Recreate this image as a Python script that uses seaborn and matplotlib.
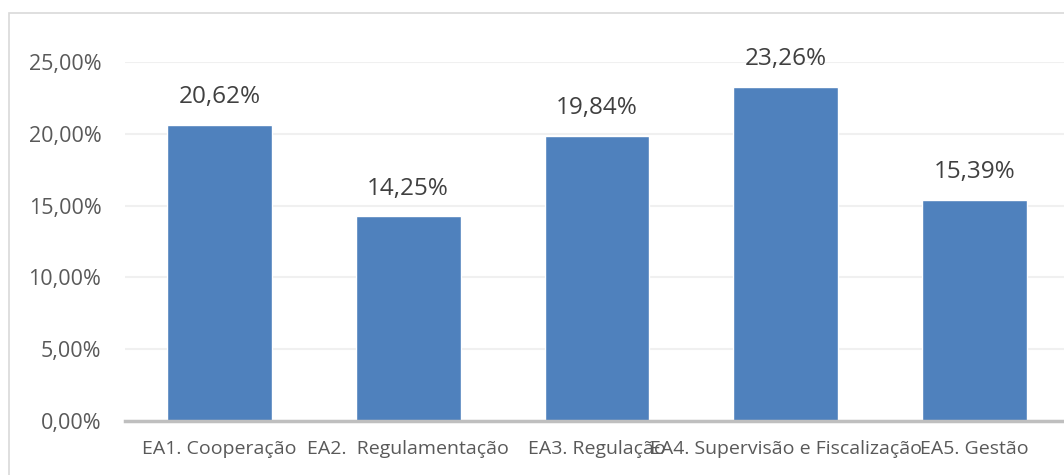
import matplotlib
matplotlib.use("Agg")
import matplotlib.pyplot as plt
import seaborn as sns
import pandas as pd
from matplotlib.patches import Rectangle
from matplotlib.ticker import FuncFormatter

# data
categories = ["EA1. Cooperação", "EA2.  Regulamentação", "EA3. Regulação",
              "EA4. Supervisão e Fiscalização", "EA5. Gestão"]
values = [0.2062, 0.1425, 0.1984, 0.2326, 0.1539]

df = pd.DataFrame({"categoria": categories, "valor": values})

sns.set_theme(style="white")
plt.rcParams["font.family"] = ["Open Sans", "DejaVu Sans"]

fig = plt.figure(figsize=(10.64, 4.75), dpi=100)
ax = fig.add_axes([125 / 1064, 1 - 421 / 475, 944 / 1064, (421 - 62) / 475])

sns.barplot(data=df, x="categoria", y="valor", color="#4F81BD",
            saturation=1, width=0.555, ax=ax)

ax.set_xlim(-0.5, 4.5)
ax.set_ylim(0, 0.25)
ax.set_yticks([0, 0.05, 0.10, 0.15, 0.20, 0.25])
ax.yaxis.set_major_formatter(FuncFormatter(lambda v, p: f"{v * 100:.2f}%".replace(".", ",")))
ax.grid(axis="y", color="#f0f0f0", linewidth=1.5)
ax.set_axisbelow(True)
for s in ["top", "right", "left"]:
    ax.spines[s].set_visible(False)
ax.spines["bottom"].set_color("#bfbfbf")
ax.spines["bottom"].set_linewidth(2.5)
ax.tick_params(axis="y", length=0, pad=17, labelsize=15.5, labelcolor="#595959")
ax.tick_params(axis="x", length=0, pad=14, labelsize=14, labelcolor="#595959")
ax.set_xlabel("")
ax.set_ylabel("")

# data labels
for i, v in enumerate(values):
    ax.text(i, v + 0.011, f"{v * 100:.2f}%".replace(".", ","), ha="center", va="bottom",
            fontsize=17.5, color="#404040", clip_on=False)

# chart border
fig.patches.append(Rectangle((8.5 / 1064, -0.1), 1.2, 1 - 12.5 / 475 + 0.1,
                             transform=fig.transFigure, fill=False,
                             edgecolor="#d9d9d9", linewidth=1.2))

fig.savefig("out.png", dpi=100)
